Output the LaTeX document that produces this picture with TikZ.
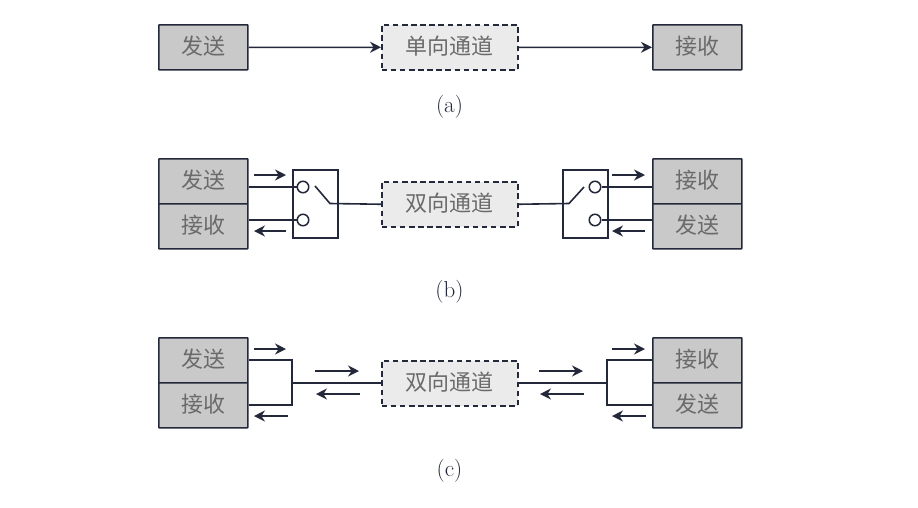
\documentclass[tikz,border=0pt]{standalone}
\usepackage{fontspec}
\newfontfamily\cjk{Noto Sans CJK SC}
\usetikzlibrary{arrows.meta}
\definecolor{ink}{HTML}{23283A}
\definecolor{boxgray}{HTML}{C9C9C9}
\definecolor{chgray}{HTML}{EBEBEB}
\definecolor{txtgray}{HTML}{6A6A6A}
\tikzset{
  x=1pt,y=-1pt,
  endbox/.style={draw=ink,line width=1.6pt,fill=boxgray,rounded corners=0.6pt,minimum width=89pt,minimum height=45pt,inner sep=0pt,anchor=north west,text=txtgray,text height=18pt,text depth=4pt,font=\cjk\fontsize{22}{24}\selectfont},
  chanbox/.style={draw=ink,line width=1.5pt,dash pattern=on 5.5pt off 3.6pt,fill=chgray,minimum width=136pt,minimum height=45pt,inner sep=0pt,anchor=north west,text=txtgray,text height=18pt,text depth=4pt,font=\cjk\fontsize{22}{24}\selectfont},
  switchbox/.style={draw=ink,line width=1.5pt,minimum width=45pt,minimum height=68pt,inner sep=0pt,anchor=north west},
  contact/.style={circle,draw=ink,line width=1.5pt,fill=white,minimum size=11.5pt,inner sep=0pt},
  wire/.style={draw=ink,line width=1.6pt},
  blade/.style={draw=ink,line width=1.6pt},
  flow/.style={draw=ink,line width=1.5pt,-{Stealth[length=11pt,width=11pt]}},
  capt/.style={text=ink,font=\fontsize{23}{25}\selectfont,inner sep=0pt},
}
\begin{document}
\begin{tikzpicture}
\useasboundingbox (0,0) rectangle (918,507);
% (a)
\node[endbox] (asend) at (158,24) {发送};
\node[chanbox] (achan) at (381,24) {单向通道};
\node[endbox] (arecv) at (652,24) {接收};
\draw[flow] (asend.east) -- (achan.west);
\draw[flow] (achan.east) -- (arecv.west);
\node[capt] (acap) at (449.5,107) {(a)};
% (b)
\node[endbox] (bsend) at (158,158) {发送};
\node[endbox] (brecv) at (158,203) {接收};
\node[chanbox] (bchan) at (381,181) {双向通道};
\node[endbox] (brrecv) at (652,158) {接收};
\node[endbox] (brsend) at (652,203) {发送};
\node[switchbox] (bsl) at (292,169) {};
\node[switchbox] (bsr) at (562,169) {};
\node[contact] (cl1) at (303,187) {};
\node[contact] (cl2) at (303,220) {};
\node[contact] (cr1) at (595,187) {};
\node[contact] (cr2) at (595,220) {};
\draw[wire] (cl1.west -| bsend.east) -- (cl1.west);
\draw[wire] (cl2.west -| brecv.east) -- (cl2.west);
\draw[wire] (cr1.east) -- (cr1.east -| brrecv.west);
\draw[wire] (cr2.east) -- (cr2.east -| brsend.west);
\coordinate (bl1) at (315,186);
\coordinate (br1) at (584,187);
\draw[blade] (bl1) -- (330,203.5) -- (bchan.west);
\draw[blade] (br1) -- (569,203.5) -- (bchan.east);
\coordinate (f1a) at (254,175); \coordinate (f1b) at (286,175);
\coordinate (f2a) at (286,231); \coordinate (f2b) at (254,231);
\coordinate (f3a) at (612,175); \coordinate (f3b) at (645,175);
\coordinate (f4a) at (645,231); \coordinate (f4b) at (612,231);
\draw[flow] (f1a) -- (f1b);
\draw[flow] (f2a) -- (f2b);
\draw[flow] (f3a) -- (f3b);
\draw[flow] (f4a) -- (f4b);
\node[capt] (bcap) at (449.5,292) {(b)};
% (c)
\node[endbox] (csend) at (158,337) {发送};
\node[endbox] (crecv) at (158,382) {接收};
\node[chanbox] (cchan) at (381,360) {双向通道};
\node[endbox] (crrecv) at (652,337) {接收};
\node[endbox] (crsend) at (652,382) {发送};
\coordinate (jl) at (292,382.5);
\coordinate (jr) at (607,382.5);
\draw[wire] (jl |- cchan.west) -- (cchan.west);
\draw[wire] (cchan.east) -- (jr |- cchan.east);
\draw[wire] (csend.east |- 0,360) -- (292,360) -- (292,405) -- (crecv.east |- 0,405);
\draw[wire] (crrecv.west |- 0,360) -- (607,360) -- (607,405) -- (crsend.west |- 0,405);
\coordinate (g1a) at (254,349); \coordinate (g1b) at (286,349);
\coordinate (g2a) at (288,416); \coordinate (g2b) at (254,416);
\coordinate (g3a) at (315,371); \coordinate (g3b) at (359,371);
\coordinate (g4a) at (360,394); \coordinate (g4b) at (316,394);
\coordinate (g5a) at (539,371); \coordinate (g5b) at (583,371);
\coordinate (g6a) at (584,394); \coordinate (g6b) at (540,394);
\coordinate (g7a) at (612,349); \coordinate (g7b) at (645,349);
\coordinate (g8a) at (646,416); \coordinate (g8b) at (612,416);
\foreach \p/\q in {g1a/g1b,g2a/g2b,g3a/g3b,g4a/g4b,g5a/g5b,g6a/g6b,g7a/g7b,g8a/g8b}{\draw[flow] (\p) -- (\q);}
\node[capt] (ccap) at (449.5,471) {(c)};
\end{tikzpicture}
\end{document}
